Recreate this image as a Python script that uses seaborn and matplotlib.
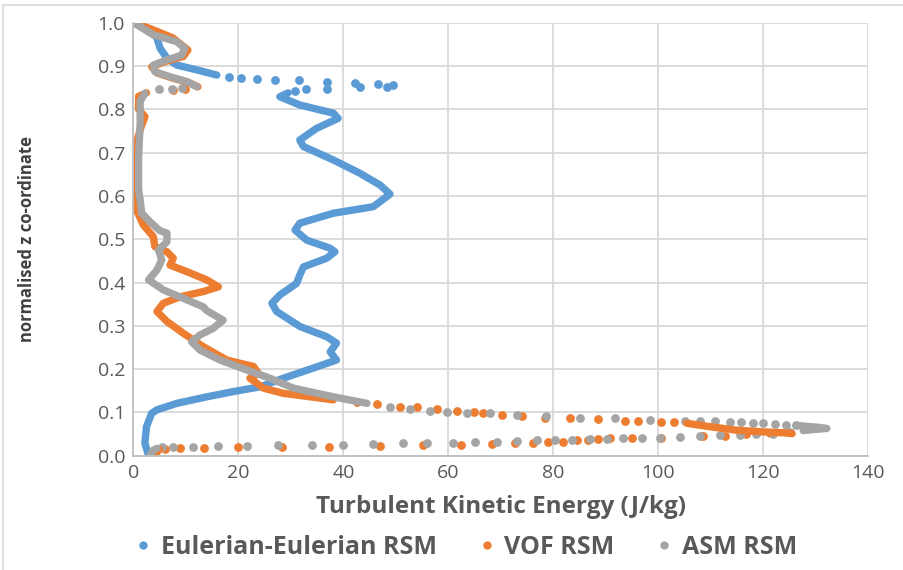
import matplotlib
matplotlib.use("Agg")
import matplotlib.pyplot as plt
from matplotlib.lines import Line2D
import seaborn as sns
import pandas as pd

# ---- Eulerian-Eulerian RSM ----
ee_top_x = [0, 1.0, 3.5, 4.5, 5.1, 6.4, 8.3, 12.1, 15.9]
ee_top_y = [1.0, 0.995, 0.983, 0.964, 0.941, 0.918, 0.902, 0.891, 0.879]
ee_dot_x = [18.3, 20.6, 23.5, 27.0, 31.6, 36.8, 42.2, 46.7, 49.5, 48.4, 43.2, 36.8, 32.9, 30.8]
ee_dot_y = [0.875, 0.873, 0.870, 0.868, 0.867, 0.864, 0.861, 0.858, 0.856, 0.852, 0.851, 0.846, 0.846, 0.843]
ee_main_x = [29.5, 27.9, 31.7, 38.1, 39.0, 34.9, 31.7, 32.4, 38.1, 43.2, 47.0, 48.9, 45.7, 38.1,
             31.7, 30.8, 33.0, 37.5, 38.4, 36.8, 32.4, 31.7, 31.1, 27.9, 26.4, 27.3, 31.8, 36.8,
             38.7, 37.5, 38.7, 34.9, 28.6, 24.1, 19.0, 14.0, 8.3, 4.5, 3.5, 2.5, 2.2, 2.9]
ee_main_y = [0.838, 0.829, 0.810, 0.791, 0.779, 0.756, 0.729, 0.714, 0.683, 0.652, 0.625, 0.604,
             0.575, 0.560, 0.537, 0.521, 0.498, 0.479, 0.471, 0.456, 0.436, 0.417, 0.398, 0.371,
             0.352, 0.333, 0.298, 0.275, 0.260, 0.240, 0.221, 0.205, 0.179, 0.159, 0.148, 0.136,
             0.121, 0.106, 0.098, 0.067, 0.029, 0.0]

# ---- VOF RSM ----
vof_top_x = [0, 3.5, 7.5, 10.4, 9.5, 6.0, 3.5, 4.5, 7.5, 10.5, 12.3]
vof_top_y = [1.0, 0.985, 0.965, 0.937, 0.922, 0.910, 0.898, 0.884, 0.872, 0.862, 0.852]
vof_gap_x = [9.8, 7.5]
vof_gap_y = [0.846, 0.845]
vof_main_x = [2.5, 1.0, 1.0, 2.2, 1.5, 0.5, 0.3, 0.3, 0.6, 1.9, 3.8, 4.1, 6.4, 7.6, 7.0, 10.2,
              14.0, 16.2, 13.3, 8.9, 5.7, 4.5, 6.4, 9.5, 13.3, 17.8, 22.9, 23.8, 22.2, 24.8,
              28.6, 33.7, 38.1]
vof_main_y = [0.838, 0.830, 0.800, 0.783, 0.760, 0.720, 0.690, 0.640, 0.567, 0.533, 0.506, 0.483,
              0.471, 0.456, 0.440, 0.425, 0.406, 0.390, 0.379, 0.367, 0.352, 0.333, 0.310, 0.283,
              0.252, 0.221, 0.206, 0.190, 0.179, 0.156, 0.144, 0.136, 0.129]
vof_up_x = [42.6, 46.4, 50.8, 54.0, 57.8, 61.6, 64.8, 66.7, 70.2, 74.0, 78.4, 83.2, 88.6, 93.7,
            96.2, 100.6, 102.9]
vof_up_y = [0.125, 0.119, 0.113, 0.112, 0.109, 0.103, 0.100, 0.098, 0.094, 0.092, 0.088, 0.086,
            0.084, 0.081, 0.081, 0.079, 0.077]
vof_tip_x = [105.4, 109.8, 114.9, 120.0, 123.8, 125.5]
vof_tip_y = [0.075, 0.067, 0.059, 0.055, 0.053, 0.051]
vof_low_x = [121.2, 116.8, 112.7, 108.6, 100.5, 95.0, 90.8, 88.6, 86.7, 84.5, 81.9, 79.0, 76.2,
             72.7, 68.3, 62.4, 55.2, 46.9, 37.3, 28.3, 20.0, 13.5, 8.9, 6.0]
vof_low_y = [0.052, 0.049, 0.046, 0.046, 0.042, 0.041, 0.040, 0.038, 0.037, 0.036, 0.032, 0.032,
             0.029, 0.030, 0.026, 0.025, 0.025, 0.023, 0.021, 0.021, 0.019, 0.018, 0.018, 0.016]
vof_base_x = [5.0, 4.3, 4.0]
vof_base_y = [0.015, 0.005, 0.0]

# ---- ASM RSM ----
asm_top_x = [0, 3.8, 8.3, 9.8, 9.2, 6.4, 3.8, 4.1, 7.0, 10.2, 12.1]
asm_top_y = [1.0, 0.972, 0.956, 0.941, 0.925, 0.914, 0.902, 0.887, 0.875, 0.864, 0.852]
asm_gap_x = [9.2, 7.3, 4.8]
asm_gap_y = [0.850, 0.847, 0.847]
asm_main_x = [2.2, 1.3, 1.3, 1.0, 1.0, 1.3, 1.6, 3.2, 5.0, 6.4, 6.4, 4.8, 5.4, 4.5, 2.9, 5.7,
              10.2, 13.3, 14.0, 17.1, 15.2, 12.7, 11.1, 12.7, 16.5, 21.6, 26.0, 30.5, 38.1, 44.5]
asm_main_y = [0.837, 0.818, 0.768, 0.690, 0.614, 0.591, 0.560, 0.540, 0.520, 0.514, 0.494, 0.475,
              0.452, 0.429, 0.406, 0.383, 0.360, 0.344, 0.335, 0.313, 0.294, 0.279, 0.263, 0.244,
              0.221, 0.198, 0.179, 0.156, 0.136, 0.121]
asm_up_x = [48.9, 52.7, 56.5, 59.7, 63.5, 67.9, 73.0, 78.7, 85.1, 91.7, 98.4, 105.1, 108.0, 110.8,
            113.6, 115.8, 118.1, 120.0, 122.2, 124.4, 126.3]
asm_up_y = [0.113, 0.108, 0.103, 0.102, 0.098, 0.098, 0.094, 0.092, 0.088, 0.086, 0.082, 0.080,
            0.080, 0.080, 0.078, 0.077, 0.076, 0.075, 0.074, 0.072, 0.070]
asm_tip_x = [126.3, 128.2, 130.2, 132.1, 130.2, 127.6]
asm_tip_y = [0.070, 0.068, 0.066, 0.063, 0.061, 0.058]
asm_low_x = [125.1, 121.9, 118.7, 115.6, 111.7, 107.9, 104.1, 100.3, 96.8, 93.3, 90.2, 87.0, 83.5,
             80.3, 76.8, 73.0, 69.2, 65.1, 60.8, 55.9, 51.3, 45.6, 39.9, 34.0, 27.6, 21.6, 16.2,
             11.4, 7.6, 5.4]
asm_low_y = [0.054, 0.051, 0.050, 0.048, 0.047, 0.046, 0.044, 0.042, 0.041, 0.040, 0.039, 0.038,
             0.036, 0.036, 0.036, 0.034, 0.032, 0.032, 0.030, 0.029, 0.029, 0.027, 0.025, 0.025,
             0.024, 0.022, 0.022, 0.021, 0.019, 0.019]
asm_base_x = [4.5, 3.8, 3.2]
asm_base_y = [0.017, 0.013, 0.0]

x_ticks = [0, 20, 40, 60, 80, 100, 120, 140]
y_ticks = [0.0, 0.1, 0.2, 0.3, 0.4, 0.5, 0.6, 0.7, 0.8, 0.9, 1.0]
series_names = ["Eulerian-Eulerian RSM", "VOF RSM", "ASM RSM"]
colors = ["#5B9BD5", "#ED7D31", "#A5A5A5"]

sns.set_theme(style="white")
plt.rcParams["font.family"] = ["Open Sans", "DejaVu Sans"]

fig = plt.figure(figsize=(9.04, 5.70), dpi=100)
ax = fig.add_axes([0.1475, 0.2005, 0.8130, 0.7597])

LW = 5.3
MS = 40


def dense(xs, ys, c):
    df = pd.DataFrame({"x": xs, "y": ys})
    sns.lineplot(data=df, x="x", y="y", sort=False, estimator=None, color=c,
                 linewidth=LW, solid_capstyle="round", solid_joinstyle="round", ax=ax)


def dots(xs, ys, c):
    df = pd.DataFrame({"x": xs, "y": ys})
    sns.scatterplot(data=df, x="x", y="y", color=c, s=MS, linewidth=0, ax=ax)


# Eulerian-Eulerian
dense(ee_top_x, ee_top_y, colors[0])
dots(ee_dot_x, ee_dot_y, colors[0])
dense(ee_main_x, ee_main_y, colors[0])

# VOF
dense(vof_top_x, vof_top_y, colors[1])
dots(vof_gap_x, vof_gap_y, colors[1])
dense(vof_main_x, vof_main_y, colors[1])
dots(vof_up_x, vof_up_y, colors[1])
dense(vof_tip_x, vof_tip_y, colors[1])
dots(vof_low_x, vof_low_y, colors[1])
dense(vof_base_x, vof_base_y, colors[1])

# ASM
dense(asm_top_x, asm_top_y, colors[2])
dots(asm_gap_x, asm_gap_y, colors[2])
dense(asm_main_x, asm_main_y, colors[2])
dots(asm_up_x, asm_up_y, colors[2])
dense(asm_tip_x, asm_tip_y, colors[2])
dots(asm_low_x, asm_low_y, colors[2])
dense(asm_base_x, asm_base_y, colors[2])

ax.set_xlim(0, 140)
ax.set_ylim(0, 1.0)
ax.set_xticks(x_ticks)
ax.set_yticks(y_ticks)
ax.set_xticklabels([str(v) for v in x_ticks])
ax.set_yticklabels([f"{v:.1f}" for v in y_ticks])
ax.grid(True, color="#D9D9D9", linewidth=1.3)
ax.set_axisbelow(True)
for side in ["top", "right"]:
    ax.spines[side].set_visible(False)
for side in ["left", "bottom"]:
    ax.spines[side].set_color("#BFBFBF")
    ax.spines[side].set_linewidth(1.3)
ax.tick_params(axis="both", length=0, labelsize=14, labelcolor="#595959", pad=6)

ax.set_xlabel("Turbulent Kinetic Energy (J/kg)", fontsize=17.5, fontweight="bold", color="#595959")
ax.xaxis.set_label_coords(0.5, -0.09)
ax.set_ylabel("normalised z co-ordinate", fontsize=12, fontweight="bold", color="#404040")
ax.yaxis.set_label_coords(-0.132, 0.5)

handles = [Line2D([], [], linestyle="none", marker="o", markersize=6, color=c, markeredgewidth=0)
           for c in colors]
fig.legend(handles, series_names, loc="center", bbox_to_anchor=(0.513, 1 - 547 / 570),
           ncol=3, frameon=False, handletextpad=0.2, handlelength=1.0, columnspacing=1.5,
           prop={"weight": "bold", "size": 18})
for t in fig.legends[0].get_texts():
    t.set_color("#595959")

# chart frame edges
fig.add_artist(Line2D([3 / 904, 3 / 904], [0, 1 - 5 / 570], color="#D9D9D9", linewidth=1.2))
fig.add_artist(Line2D([3 / 904, 1], [1 - 5 / 570, 1 - 5 / 570], color="#D9D9D9", linewidth=1.2))

fig.savefig("out.png", dpi=100)
